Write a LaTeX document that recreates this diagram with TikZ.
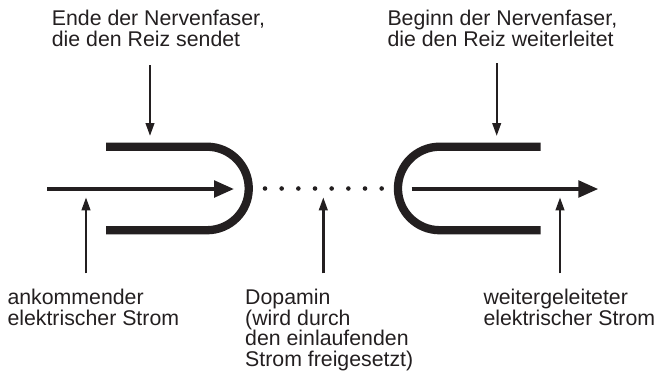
\documentclass[tikz,border=0pt]{standalone}
\usepackage{fontspec}
\setmainfont{Liberation Sans}
\usetikzlibrary{arrows.meta}
\definecolor{ink}{HTML}{231F20}
\begin{document}
\begin{tikzpicture}[x=1pt,y=-1pt,
  lbl/.style={anchor=base west,inner sep=0pt,align=left,text=ink,
    font=\fontsize{21.3}{20.7}\selectfont},
  fiber/.style={draw=ink,line width=8.3pt},
  current/.style={draw=ink,line width=4pt,-{Triangle[length=20pt,width=16.5pt]}},
  pointer/.style={draw=ink,line width=2.4pt,-{Triangle[length=13pt,width=8.5pt]}}]
\useasboundingbox (0,0) rectangle (658,376);
% labels (base anchor = baseline of last line)
\node[lbl] (ende) at (51.7,46.2) {Ende der Nervenfaser,\\die den Reiz sendet};
\node[lbl] (beginn) at (387.3,46.2) {Beginn der Nervenfaser,\\die den Reiz weiterleitet};
\node[lbl] (ankom) at (7.3,325) {ankommender\\elektrischer Strom};
\node[lbl] (dopa) at (245,366.4) {Dopamin\\(wird durch\\den einlaufenden\\Strom freigesetzt)};
\node[lbl] (weiter) at (483.3,325) {weitergeleiteter\\elektrischer Strom};
% nerve fibre ends
\draw[fiber] (106,146.7) -- (207,146.7) arc[start angle=-90,end angle=90,radius=41.75] -- (106,230.2);
\draw[fiber] (540.7,146.7) -- (439.7,146.7) arc[start angle=-90,end angle=-270,radius=41.75] -- (540.7,230.2);
% currents
\coordinate (inS) at (47,189);
\coordinate (inE) at (234,189);
\coordinate (outS) at (411.7,189);
\coordinate (outE) at (598.3,189);
\draw[current] (inS) -- (inE);
\draw[current] (outS) -- (outE);
% dopamine dots
\foreach \i in {0,...,7}
  \fill[ink] (265+16.67*\i,188.5) circle[radius=2.3];
% pointers
\coordinate (p1a) at (150,65);   \coordinate (p1b) at (150,136);
\coordinate (p2a) at (496.7,63); \coordinate (p2b) at (496.7,136);
\coordinate (p3a) at (86,273.3);  \coordinate (p3b) at (86,197.3);
\coordinate (p4a) at (323.3,273.3); \coordinate (p4b) at (323.3,197.3);
\coordinate (p5a) at (560,273.3); \coordinate (p5b) at (560,197.3);
\draw[pointer] (p1a) -- (p1b);
\draw[pointer] (p2a) -- (p2b);
\draw[pointer] (p3a) -- (p3b);
\draw[pointer] (p4a) -- (p4b);
\draw[pointer] (p5a) -- (p5b);
\end{tikzpicture}
\end{document}
